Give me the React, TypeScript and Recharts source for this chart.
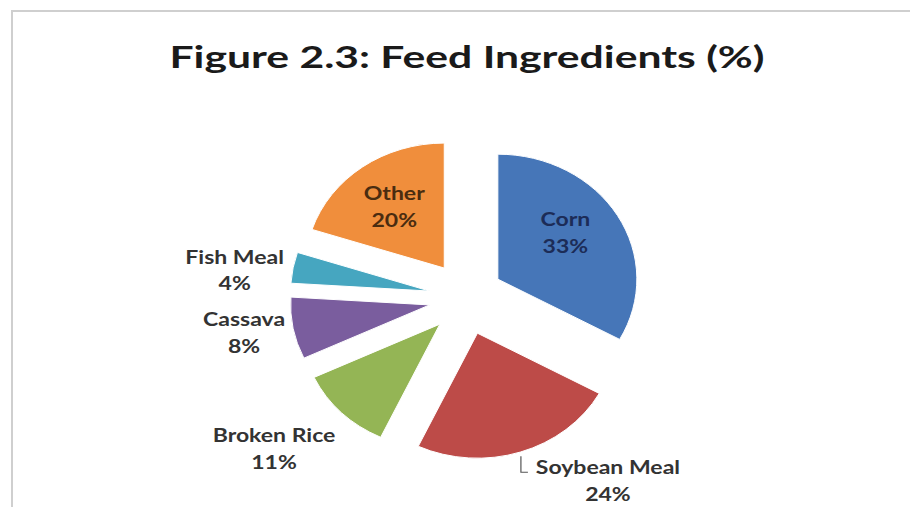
import React from 'react';
import { PieChart, Pie, Cell } from 'recharts';

const ingredients = ['Corn', 'Soybean Meal', 'Broken Rice', 'Cassava', 'Fish Meal', 'Other'];
const shares = [33, 24, 11, 8, 4, 20];

const COLORS = ['#4676b8', '#bd4b48', '#94b555', '#7a5d9e', '#46a6c0', '#f08e3c'];
const LABEL_COLORS = ['#1c2c57', '#333333', '#333333', '#333333', '#333333', '#4a2c10'];

// label placement, relative to the slice mid angle: radius factor + angle nudge (deg)
const LABEL_POS: Record<string, { k: number; turn: number }> = {
  Corn: { k: 0.89, turn: 6 },
  'Soybean Meal': { k: 1.78, turn: 17 },
  'Broken Rice': { k: 1.83, turn: -4 },
  Cassava: { k: 1.62, turn: -1 },
  'Fish Meal': { k: 1.68, turn: 3 },
  Other: { k: 0.9, turn: -1 },
};

const data = ingredients.map((name, i) => ({ name, value: shares[i] }));

const RX = 139;
const RY = 125;
const EXPLODE = 37;
const RAD = Math.PI / 180;
const FONT = 'Lato, "Open Sans", sans-serif';
const STRETCH = 1.28;

const ExplodedSlice = (props: any) => {
  const { cx, cy, startAngle, endAngle, fill } = props;
  const mid = (startAngle + endAngle) / 2;
  const ox = cx + EXPLODE * Math.cos(-mid * RAD);
  const oy = cy + EXPLODE * Math.sin(-mid * RAD);
  const pt = (a: number) => [ox + RX * Math.cos(-a * RAD), oy + RY * Math.sin(-a * RAD)];
  const [x1, y1] = pt(startAngle);
  const [x2, y2] = pt(endAngle);
  const large = Math.abs(endAngle - startAngle) > 180 ? 1 : 0;
  const sweep = startAngle > endAngle ? 1 : 0;
  const d = `M${ox},${oy} L${x1},${y1} A${RX},${RY} 0 ${large} ${sweep} ${x2},${y2} Z`;
  return <path d={d} fill={fill} stroke="#ffffff" strokeWidth={1} />;
};

const renderLabel = (props: any) => {
  const { cx, cy, midAngle, name, value, index } = props;
  const pos = LABEL_POS[name];
  const a = (midAngle + pos.turn) * RAD;
  const x = cx + pos.k * RX * Math.cos(a);
  const y = cy - pos.k * RY * Math.sin(a);
  const color = LABEL_COLORS[index];
  return (
    <g>
      {name === 'Soybean Meal' && (
        <polyline
          points={`${x - 87},${y - 24} ${x - 87},${y - 8} ${x - 80},${y - 8}`}
          fill="none"
          stroke="#555555"
          strokeWidth={1.2}
        />
      )}
      <g transform={`translate(${x},${y}) scale(${STRETCH},1)`}>
        <text x={0} y={0} textAnchor="middle" fill={color} fontFamily={FONT} fontWeight={700} fontSize={18}>
          <tspan x={0} dy={-6}>{name}</tspan>
          <tspan x={0} dy={27}>{`${value}%`}</tspan>
        </text>
      </g>
    </g>
  );
};

export default function App() {
  return (
    <div style={{ position: 'absolute', left: 0, top: 0, width: 910, height: 507, background: '#fff' }}>
      <PieChart width={910} height={507} margin={{ top: 0, right: 0, bottom: 0, left: 0 }}>
        <rect x={12} y={11} width={910} height={510} fill="none" stroke="#cfcfcf" strokeWidth={2} />
        <text
          x={467}
          y={68}
          textAnchor="middle"
          fontFamily={FONT}
          fontWeight={700}
          fontSize={30}
          fill="#1a1a1a"
          textLength={595}
          lengthAdjust="spacingAndGlyphs"
        >
          Figure 2.3: Feed Ingredients (%)
        </text>
        <Pie
          data={data}
          dataKey="value"
          nameKey="name"
          cx={466}
          cy={298}
          outerRadius={132}
          startAngle={90}
          endAngle={-270}
          stroke="none"
          shape={ExplodedSlice}
          label={renderLabel}
          labelLine={false}
          isAnimationActive={false}
        >
          {data.map((d, i) => (
            <Cell key={d.name} fill={COLORS[i]} />
          ))}
        </Pie>
      </PieChart>
    </div>
  );
}
